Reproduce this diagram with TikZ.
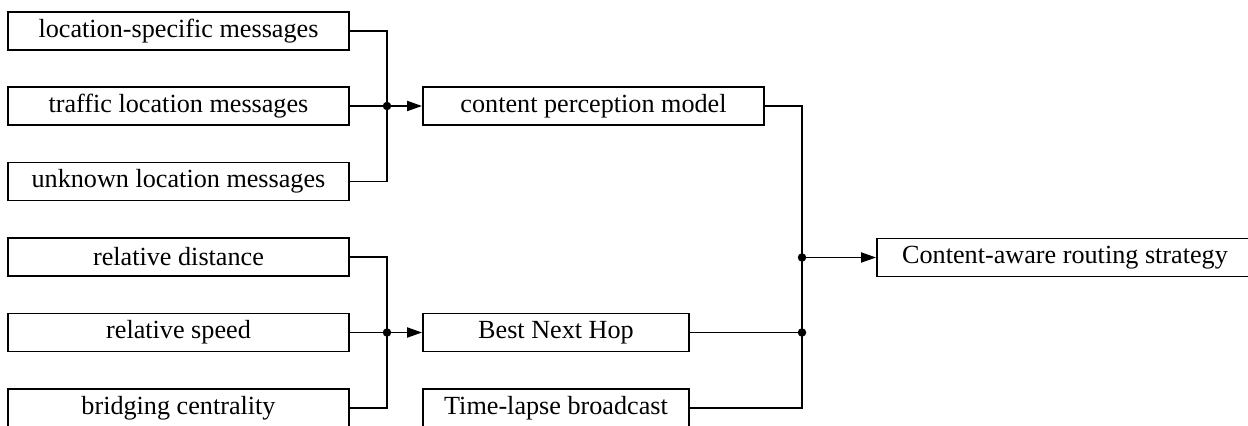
\documentclass[tikz,border=0pt]{standalone}
\usepackage{fontspec}
\setmainfont{Liberation Serif}
\usetikzlibrary{arrows.meta}
\begin{document}
\begin{tikzpicture}[x=0.02cm,y=-0.02cm,
  line width=1.1pt,
  blk/.style={draw,inner sep=0pt,minimum height=0.76cm,
    font=\fontsize{14.9}{18}\selectfont},
  inblk/.style={blk,minimum width=6.82cm},
  dotnode/.style={circle,fill,inner sep=0pt,minimum size=0.17cm},
  feed/.style={-{Triangle[length=0.3cm,width=0.2cm]}}]%
\useasboundingbox (0,0) rectangle (1248,426);
\clip (0,0) rectangle (1248,426);
% inputs
\node[inblk] (lsm) at (178.5,31) {location-specific messages};
\node[inblk] (tlm) at (178.5,106) {traffic location messages};
\node[inblk] (ulm) at (178.5,181.5) {unknown location messages};
\node[inblk] (rdist) at (178.5,257) {relative distance};
\node[inblk] (rspeed) at (178.5,332.5) {relative speed};
\node[inblk] (bcent) at (178.5,408) {bridging centrality};
% middle column
\node[blk,minimum width=6.82cm] (cpm) at (593.5,106) {content perception model};
\node[blk,minimum width=5.32cm] (bnh) at (556,332.5) {Best Next Hop};
\node[blk,minimum width=5.32cm] (tlb) at (556,408) {Time-lapse broadcast};
\node[blk,minimum width=7.52cm] (cars) at (1065,257.5) {Content-aware routing strategy};
% junctions
\node[dotnode] (j1) at (387,106) {};
\node[dotnode] (j2) at (387,332.5) {};
\node[dotnode] (j3) at (802,257.5) {};
\node[dotnode] (j4) at (802,332.5) {};
\draw (lsm.east) -| (j1.center) |- (ulm.east);
\draw (tlm.east) -- (j1.center);
\draw[feed] (j1.center) -- (cpm.west);
\draw (rdist.east) -| (j2.center) |- (bcent.east);
\draw (rspeed.east) -- (j2.center);
\draw[feed] (j2.center) -- (bnh.west);
\draw (cpm.east) -| (j3.center) -- (j4.center) |- (tlb.east);
\draw (bnh.east) -- (j4.center);
\draw[feed] (j3.center) -- (cars.west);
\end{tikzpicture}
\end{document}
